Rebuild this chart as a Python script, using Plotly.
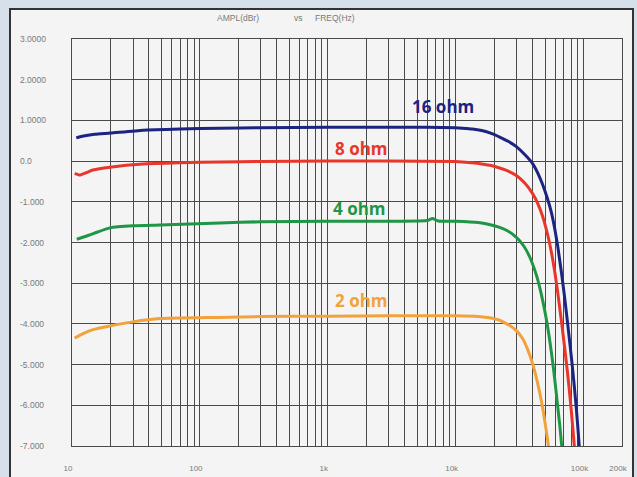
import plotly.graph_objects as go
import numpy as np

# ---------------- data ----------------
f16 = [10.8, 12, 15, 20, 36, 70, 143, 300, 1000, 3000, 6000, 10000, 11300, 13500, 16000,
       19000, 22100, 26000, 30000, 35000, 40000, 44000, 47800, 52000, 56200, 59500, 62700,
       67300, 71000, 75000, 78500, 82000, 85000, 88100, 90500, 93000]
a16 = [0.57, 0.61, 0.66, 0.69, 0.76, 0.79, 0.81, 0.82, 0.83, 0.83, 0.83, 0.82, 0.81, 0.79, 0.75,
       0.68, 0.59, 0.48, 0.35, 0.15, -0.06, -0.30, -0.57, -0.90, -1.27, -1.65, -2.07,
       -2.75, -3.32, -3.97, -4.52, -5.08, -5.58, -6.12, -6.58, -7.08]

f8 = [10.5, 11.5, 13, 14.6, 19.8, 36, 70, 143, 300, 1000, 3000, 10000, 11300, 13500, 16000,
      19000, 22100, 26000, 30000, 35000, 40000, 44000, 47800, 51000, 54300, 57300, 60000,
      63000, 67300, 71000, 75000, 78000, 80600, 83000, 85000]
a8 = [-0.30, -0.34, -0.28, -0.22, -0.15, -0.07, -0.04, -0.02, -0.01, 0.0, 0.0, -0.01, -0.02, -0.04, -0.07,
      -0.11, -0.17, -0.25, -0.36, -0.55, -0.80, -1.05, -1.35, -1.66, -2.02, -2.40, -2.78,
      -3.25, -3.95, -4.55, -5.20, -5.72, -6.20, -6.66, -7.05]

f4 = [10.9, 13, 15, 19.8, 30, 48.7, 143, 300, 1000, 3000, 5000, 6000, 6600, 7300, 10000, 15000,
      18000, 22100, 26000, 30000, 34000, 37900, 43000, 47000, 51300, 54500, 57300, 60000,
      62700, 65500, 68000]
a4 = [-1.92, -1.84, -1.77, -1.64, -1.59, -1.57, -1.52, -1.49, -1.48, -1.48, -1.47, -1.46, -1.41, -1.47,
      -1.48, -1.51, -1.55, -1.63, -1.73, -1.88, -2.08, -2.35, -2.82, -3.30, -3.90, -4.42,
      -4.92, -5.45, -6.00, -6.55, -7.10]

f2 = [10.5, 12, 14.6, 19.8, 30, 48.7, 143, 300, 1000, 3000, 10000, 15000, 20000, 22100, 23500,
      26500, 30000, 33400, 36500, 40000, 43500, 47000, 50000, 52400, 53500]
a2 = [-4.35, -4.25, -4.14, -4.05, -3.95, -3.87, -3.84, -3.82, -3.81, -3.80, -3.80, -3.82, -3.87,
      -3.91, -3.95, -4.04, -4.17, -4.36, -4.62, -4.98, -5.42, -5.92, -6.42, -6.85, -7.08]

series_names = ["16 ohm", "8 ohm", "4 ohm", "2 ohm"]
series_freqs = [f16, f8, f4, f2]
series_amps = [a16, a8, a4, a2]
series_colors = ["#1c2380", "#e8362b", "#1e9646", "#f2a23c"]

# label anchor positions (freq, dB) for the in-chart series labels
label_freqs = [7900, 1850, 1780, 1850]
label_amps = [1.33, 0.32, -1.16, -3.42]

x_label_vals = [10, 100, 1000, 10000, 100000, 200000]
x_label_text = ["10", "100", "1k", "10k", "100k", "200k"]
y_tick_vals = [3, 2, 1, 0, -1, -2, -3, -4, -5, -6, -7]
y_tick_text = ["3.0000", "2.0000", "1.0000", "0.0", "-1.000", "-2.000", "-3.000",
               "-4.000", "-5.000", "-6.000", "-7.000"]
title_parts = ["AMPL(dBr)", "vs", "FREQ(Hz)"]

# ---------------- figure ----------------
W, H = 637, 477
ML, MR, MT, MB = 72, 15, 39, 31
PW, PH = W - ML - MR, H - MT - MB

fig = go.Figure()
for name, fx, ay, col in zip(series_names, series_freqs, series_amps, series_colors):
    fig.add_trace(go.Scatter(x=fx, y=ay, mode="lines", name=name,
                             line=dict(color=col, width=3, shape="spline", smoothing=0.5)))

# grid positions for the log axis: 1..9 per decade plus the 200k edge
grid_vals = []
for k in range(1, 5):
    for d in range(1, 10):
        grid_vals.append(d * 10 ** k)
grid_vals += [100000, 200000]
grid_vals = sorted(set(grid_vals))
lab_map = dict(zip(x_label_vals, x_label_text))
grid_text = [lab_map.get(v, "") for v in grid_vals]

grid_col = "#4a4a4a"
small_font = dict(family="Liberation Sans, Arial", size=8, color="#7a7a7a")
fig.update_xaxes(type="log", range=[1, np.log10(200000)], tickvals=grid_vals, ticktext=grid_text,
                 showgrid=True, gridcolor=grid_col, gridwidth=1, zeroline=False, automargin=False,
                 showline=True, linecolor=grid_col, linewidth=1, mirror=True, ticks="",
                 tickfont=small_font, ticklabelstandoff=14, ticklabelshift=-4)
fig.update_yaxes(range=[-7, 3], tickvals=y_tick_vals, showticklabels=False, automargin=False,
                 showgrid=True, gridcolor=grid_col, gridwidth=1, zeroline=False,
                 showline=True, linecolor=grid_col, linewidth=1, mirror=True, ticks="")

annotations = []
for v, t in zip(y_tick_vals, y_tick_text):
    annotations.append(dict(xref="paper", yref="y", x=(18 - ML) / PW, y=v, text=t,
                            showarrow=False, xanchor="left", yanchor="middle",
                            font=dict(family="Liberation Sans, Arial", size=8.5, color="#7a7a7a")))
for name, lf, la, col in zip(series_names, label_freqs, label_amps, series_colors):
    annotations.append(dict(xref="x", yref="y", x=np.log10(lf), y=la, text=name,
                            showarrow=False, xanchor="center", yanchor="middle",
                            font=dict(family="Open Sans", size=17, color=col, weight=700)))
title_px = [238, 298, 335]
for t, px in zip(title_parts, title_px):
    annotations.append(dict(xref="paper", yref="paper", x=(px - ML) / PW, y=(H - MB - 18) / PH,
                            text=t, showarrow=False, xanchor="center", yanchor="middle",
                            font=dict(family="Liberation Sans, Arial", size=8.5, color="#7a7a7a")))

shapes = [dict(type="rect", xref="paper", yref="paper", layer="below",
               x0=(10 - ML) / PW, x1=(633 - ML) / PW,
               y0=(H - MB - 490) / PH, y1=(H - MB - 9) / PH,
               line=dict(color="#333", width=2), fillcolor="#f3f4f3")]

fig.update_layout(width=W, height=H, margin=dict(l=ML, r=MR, t=MT, b=MB),
                  paper_bgcolor="#d6e0ea", plot_bgcolor="#f3f4f3",
                  showlegend=False, annotations=annotations, shapes=shapes)

fig.write_html("out.html", config={"displayModeBar": False},
               post_script="document.body.style.margin='0';document.body.style.overflow='hidden';")
